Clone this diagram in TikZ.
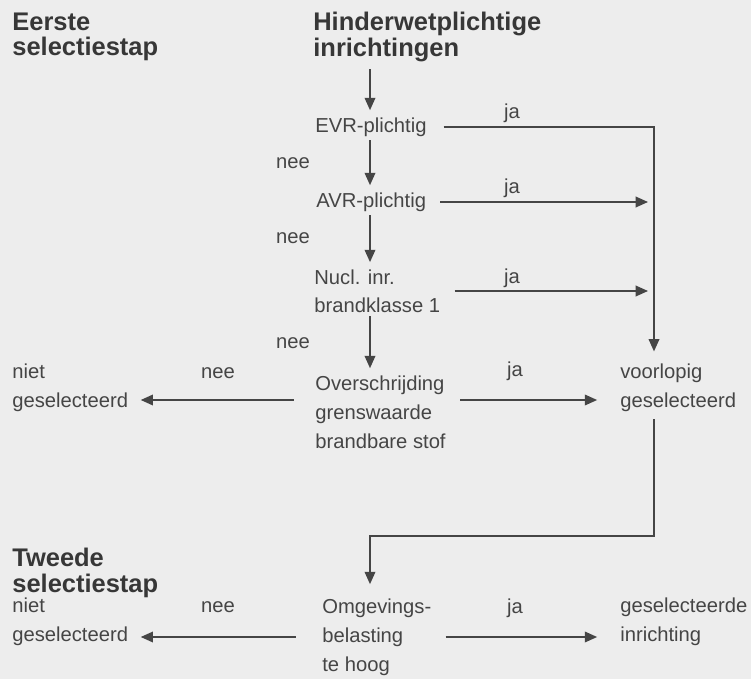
\documentclass[tikz,border=0pt]{standalone}
\usepackage{fontspec}
\setmainfont{Liberation Sans}
\usetikzlibrary{arrows.meta}
\definecolor{papier}{HTML}{EDEDED}
\definecolor{inkt}{HTML}{454545}
\begin{document}
\begin{tikzpicture}[x=0.02cm, y=-0.02cm,
  every node/.style={text=inkt, inner sep=0pt, align=left, anchor=west, font=\fontsize{11.5}{16.5}\selectfont},
  kop/.style={font=\bfseries\fontsize{14.5}{14.5}\selectfont, text=inkt!80!black},
  lbl/.style={anchor=center},
  pijl/.style={draw=inkt, line width=1pt, -{Triangle[length=7pt,width=6pt]}},
  neer/.style={pijl, shorten <=2pt, shorten >=4pt},
  zij/.style={pijl, shorten <=8pt, shorten >=7pt}]
\fill[papier] (0,0) rectangle (751,679);

\coordinate (spine) at (370,0);
\coordinate (rail) at (654,0);
\coordinate (hoogte1) at (0,400);
\coordinate (knik) at (654,536);

\node[kop] (stap1) at (12,37) {Eerste\\selectiestap};
\node[kop] (hw) at (313,37) {Hinderwetplichtige\\inrichtingen};

\node (evr) at (315,127) {EVR-plichtig};
\node (avr) at (316,202) {AVR-plichtig};
\node[font=\fontsize{11.5}{16}\selectfont] (nucl) at (314,291) {Nucl. inr.\\brandklasse 1};
\node (over) at (315,412) {Overschrijding\\grenswaarde\\brandbare stof};
\node (niet1) at (12,388) {niet\\geselecteerd};
\node (voorl) at (620,388) {voorlopig\\geselecteerd};

\node[kop] (stap2) at (12,573) {Tweede\\selectiestap};
\node (omg) at (322,637) {Omgevings-\\belasting\\te hoog};
\node (niet2) at (12,622) {niet\\geselecteerd};
\node (gesel) at (620,622) {geselecteerde\\inrichting};

\node[lbl] (nee1) at (293,163) {nee};
\node[lbl] (nee2) at (293,238) {nee};
\node[lbl] (nee3) at (293,343) {nee};
\node[lbl] (nee4) at (218,373) {nee};
\node[lbl] (nee5) at (218,607) {nee};
\node[lbl] (ja1) at (512,113) {ja};
\node[lbl] (ja2) at (512,188) {ja};
\node[lbl] (ja3) at (512,278) {ja};
\node[lbl] (ja4) at (515,371) {ja};
\node[lbl] (ja5) at (515,608) {ja};

\draw[neer, shorten <=4pt] (hw.south -| spine) -- (evr.north -| spine);
\draw[neer] (evr.south -| spine) -- (avr.north -| spine);
\draw[neer] (avr.south -| spine) -- (nucl.north -| spine);
\draw[neer] (nucl.south -| spine) -- (over.north -| spine);

\draw[zij, shorten <=9.5pt] (evr.east) -- (evr.east -| rail) -- (voorl.north -| rail);
\draw[zij, shorten >=3.4pt] (avr.east) -- (avr.east -| rail);
\draw[zij, shorten >=3.4pt] (nucl.east) -- (nucl.east -| rail);

\draw[zij, shorten <=12pt] (over.west |- hoogte1) -- (niet1.east |- hoogte1);
\draw[zij, shorten >=13pt] (over.east |- hoogte1) -- (voorl.west |- hoogte1);

\draw[pijl, shorten <=4pt, shorten >=8pt] (voorl.south -| rail) -- (knik) -| (omg.north -| spine);

\draw[zij, shorten <=15pt] (omg.west) -- (niet2.east |- omg.west);
\draw[zij, shorten >=13pt] (omg.east |- omg.west) -- (gesel.west |- omg.west);
\end{tikzpicture}
\end{document}
